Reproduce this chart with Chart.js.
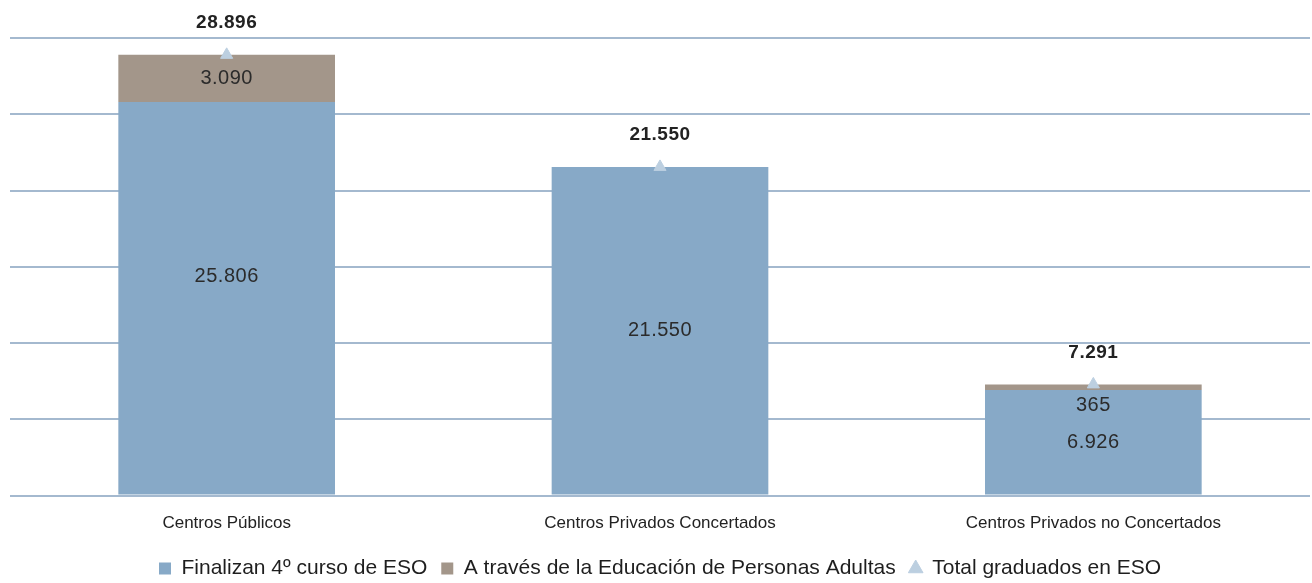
<!DOCTYPE html>
<html>
<head>
<meta charset="utf-8">
<script src="https://cdn.jsdelivr.net/npm/chart.js@4.4.1/dist/chart.umd.min.js"></script>
<style>
  html,body{margin:0;padding:0;background:#fff;overflow:hidden;}
  canvas{display:block;}
</style>
</head>
<body>
<canvas id="c" width="1312" height="583"></canvas>
<script>
// datos
const categorias = ['Centros Públicos', 'Centros Privados Concertados', 'Centros Privados no Concertados'];
const finalizan4 = [25806, 21550, 6926];
const adultos = [3090, 0, 365];
const totales = [28896, 21550, 7291];

const serieNombres = ['Finalizan 4º curso de ESO', 'A través de la Educación de Personas Adultas', 'Total graduados en ESO'];

// desplazamiento de etiquetas dentro de las barras (px)
const offsetFinalizan = [-22, 0, 0];
const offsetAdultos = [0, 0, 18];

const FONT = "'Liberation Sans Narrow', 'Arial Narrow', 'Liberation Sans', sans-serif";
const fmt = v => v.toLocaleString('de-DE');

const etiquetas = {
  id: 'etiquetas',
  afterDatasetsDraw(chart) {
    const ctx = chart.ctx;
    ctx.save();
    ctx.textAlign = 'center';
    ctx.textBaseline = 'middle';
    ctx.letterSpacing = '0.5px';
    ctx.fillStyle = '#2b2b2b';
    ctx.font = '20px ' + FONT;
    // dataset 1 = finalizan, 2 = adultos, 0 = totales
    chart.getDatasetMeta(1).data.forEach((el, i) => {
      const mid = (el.y + el.base) / 2;
      ctx.fillText(fmt(finalizan4[i]), el.x, mid + offsetFinalizan[i]);
    });
    chart.getDatasetMeta(2).data.forEach((el, i) => {
      if (!adultos[i]) return;
      const mid = (el.y + el.base) / 2;
      ctx.fillText(fmt(adultos[i]), el.x, mid + offsetAdultos[i]);
    });
    ctx.font = 'bold 19px ' + FONT;
    ctx.fillStyle = '#222';
    chart.getDatasetMeta(0).data.forEach((el, i) => {
      ctx.fillText(fmt(totales[i]), el.x, el.y - 32);
    });
    ctx.restore();
  }
};

new Chart(document.getElementById('c'), {
  data: {
    labels: categorias,
    datasets: [
      { type: 'line', label: serieNombres[2], data: totales, showLine: false,
        pointStyle: 'triangle', pointRadius: 7, backgroundColor: '#bccfe0', borderColor: '#bccfe0', order: 0 },
      { type: 'bar', label: serieNombres[0], data: finalizan4, backgroundColor: '#87a9c7',
        pointStyle: 'rect', stack: 's', order: 1 },
      { type: 'bar', label: serieNombres[1], data: adultos, backgroundColor: '#a3968a',
        pointStyle: 'rect', stack: 's', order: 1 }
    ]
  },
  options: {
    responsive: false,
    animation: false,
    layout: { autoPadding: false, padding: { top: 38, left: 10, right: 2, bottom: -6 } },
    datasets: { bar: { categoryPercentage: 1, barPercentage: 0.5 } },
    scales: {
      x: {
        stacked: true,
        grid: { display: false },
        border: { display: false },
        ticks: { color: '#222', font: { family: FONT, size: 17 }, padding: 10 }
      },
      y: {
        stacked: true,
        min: 0, max: 30000,
        ticks: { display: false, stepSize: 5000 },
        border: { display: false },
        grid: { color: '#a4b9cf', lineWidth: 2, drawTicks: false }
      }
    },
    plugins: {
      tooltip: { enabled: false },
      legend: {
        position: 'bottom',
        labels: {
          usePointStyle: true,
          boxWidth: 12, boxHeight: 12,
          padding: 14,
          color: '#1e1e1e',
          font: { family: FONT, size: 21 },
          sort: (a, b) => [1, 2, 0].indexOf(a.datasetIndex) - [1, 2, 0].indexOf(b.datasetIndex)
        }
      }
    }
  },
  plugins: [etiquetas]
});
</script>
</body>
</html>
